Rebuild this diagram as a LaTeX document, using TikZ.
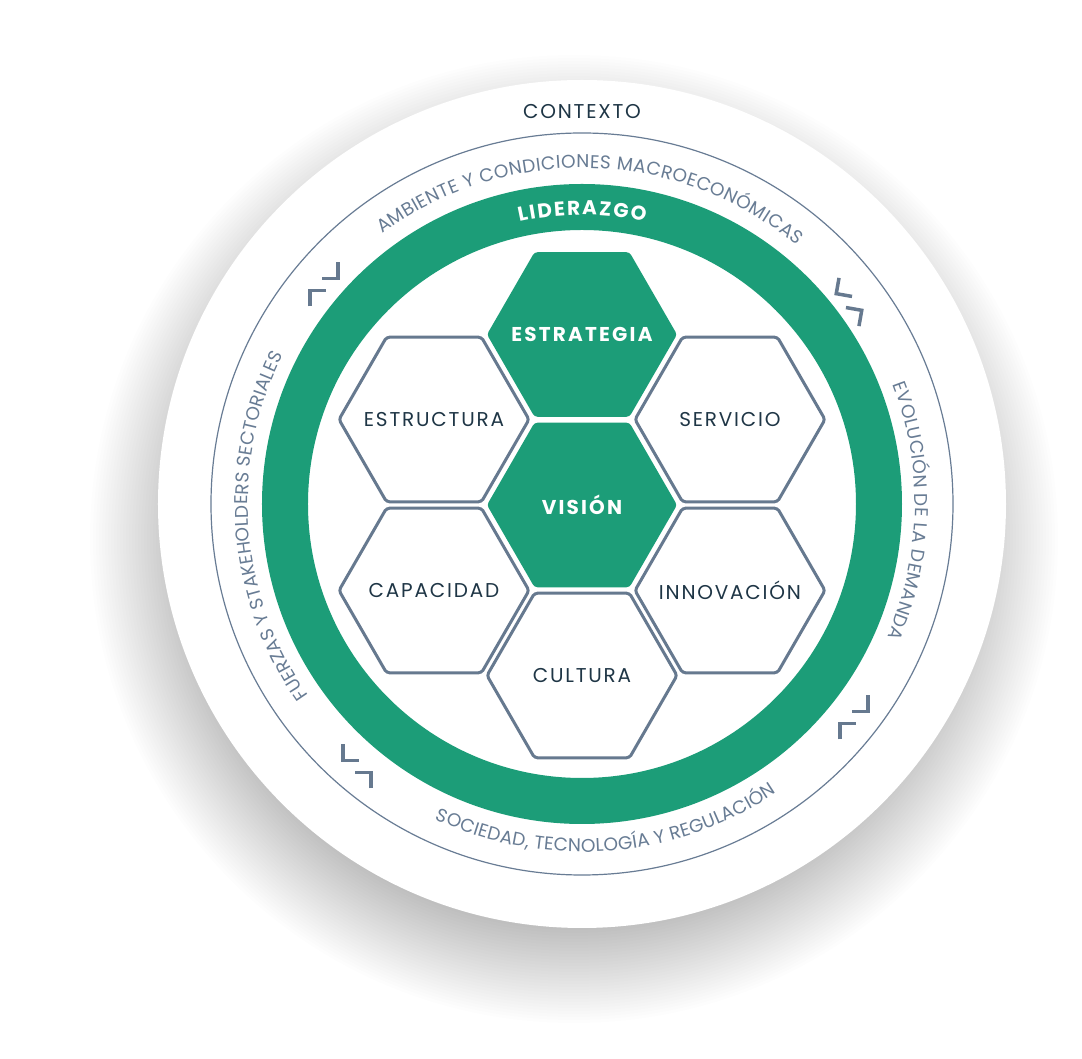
\documentclass[tikz,border=0pt]{standalone}
\usepackage{fontspec}
\setmainfont{Poppins}
\newfontfamily\hexfont[LetterSpace=9]{Poppins}
\newfontfamily\hexboldfont[LetterSpace=11]{Poppins}
\usetikzlibrary{shapes.geometric,decorations.text}
\definecolor{ringgreen}{HTML}{1C9D78}
\definecolor{hexline}{HTML}{66798F}
\definecolor{arctext}{HTML}{687C94}
\definecolor{darktext}{HTML}{1F3646}
\newcommand\ringfont{\fontsize{18.5}{22}\selectfont}
\newcommand\leadfont{\fontsize{20}{24}\selectfont\bfseries}

\tikzset{
  hexcell/.style={regular polygon, regular polygon sides=6, minimum size=190pt, inner sep=-30pt, outer sep=0pt, rounded corners=3pt},
  hexfull/.style={hexcell, fill=ringgreen, text=white, font=\hexboldfont\fontsize{20}{24}\selectfont\bfseries},
  hexopen/.style={hexcell, draw=hexline, line width=3pt, fill=white, text=darktext, font=\hexfont\fontsize{20}{24}\selectfont},
  swapmark/.pic={
    \draw[hexline, line width=3.5pt] (14,22) -- (14,6) -- (-2,6);
    \draw[hexline, line width=3.5pt] (-14,-22) -- (-14,-6) -- (2,-6);
  },
  swapmirror/.pic={
    \draw[hexline, line width=3.5pt] (-14,22) -- (-14,6) -- (2,6);
    \draw[hexline, line width=3.5pt] (14,-22) -- (14,-6) -- (-2,-6);
  },
  ringtext/.style={decorate, decoration={text along path, text align=fit to path, text color=arctext, text={|\ringfont|#1}}}
}

\begin{document}
\begin{tikzpicture}[x=1pt, y=1pt]
\useasboundingbox (-582,-555) rectangle (500,504);
% soft shadow under the disc
\foreach \i in {0,...,39}
  \fill[black, opacity=0.006] (-8,-35) circle[radius=484-3*\i];
\fill[white] (0,0) circle[radius=424];
\draw[arctext, line width=1.2pt] (0,0) circle[radius=371];
\fill[ringgreen, even odd rule] (0,0) circle[radius=320] circle[radius=274];

\node[text=darktext, font=\hexfont\fontsize{20}{24}\selectfont] (contexto) at (0,392) {CONTEXTO};

% texts along the rings
\path[ringtext={AMBIENTE Y CONDICIONES MACROECONÓMICAS}] (126.5:336) arc[start angle=126.5, end angle=50.3, radius=336];
\path[ringtext={FUERZAS Y STAKEHOLDERS SECTORIALES}] (215:334) arc[start angle=215, end angle=153.5, radius=334];
\path[ringtext={EVOLUCIÓN DE LA DEMANDA}] (21:333) arc[start angle=21, end angle=-23.5, radius=333];
\path[ringtext={SOCIEDAD, TECNOLOGÍA Y REGULACIÓN}] (245:348) arc[start angle=245, end angle=304, radius=348];
\path[decorate, decoration={text along path, text align=fit to path, text color=white, text={|\leadfont|LIDERAZGO}}] (102.5:289) arc[start angle=102.5, end angle=77.4, radius=289];

% hexagons
\node[hexfull] (vision) at (0,-1) {VISIÓN};
\node[hexfull] (estrategia) at (0,169.5) {ESTRATEGIA};
\node[hexopen] (cultura) at (0,-171.5) {CULTURA};
\node[hexopen] (estructura) at (-148,84.5) {ESTRUCTURA};
\node[hexopen] (capacidad) at (-148,-86.5) {CAPACIDAD};
\node[hexopen] (servicio) at (148,84.5) {SERVICIO};
\node[hexopen] (innovacion) at (148,-86.5) {INNOVACIÓN};

% loop marks
\pic at (-258,219.5) {swapmark};
\pic at (272,-213.5) {swapmark};
\pic[rotate=-10] at (267,202) {swapmirror};
\pic at (-225,-262.5) {swapmirror};
\end{tikzpicture}
\end{document}
